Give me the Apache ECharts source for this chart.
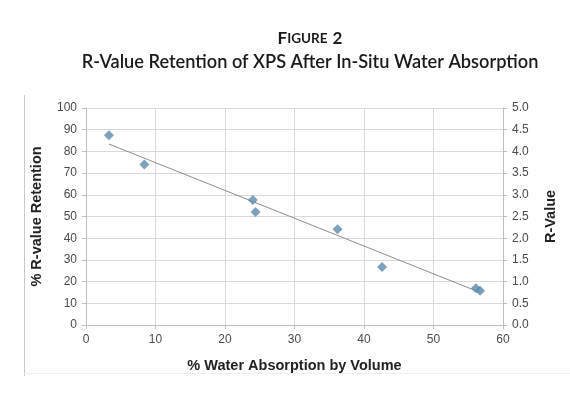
<!DOCTYPE html>
<html>
<head>
<meta charset="utf-8">
<script src="https://cdn.jsdelivr.net/npm/echarts@6/dist/echarts.min.js"></script>
<style>
  html, body { margin: 0; padding: 0; background: #fff; }
  #chart { width: 570px; height: 398px; }
</style>
</head>
<body>
<div id="chart"></div>
<script>
// measured points
const waterAbs = [3.3, 8.4, 24.0, 24.4, 36.2, 42.6, 56.1, 56.7];
const retention = [87.4, 74.0, 57.6, 52.1, 44.1, 26.7, 16.9, 15.8];
// trend line endpoints
const trendX = [3.3, 56.7];
const trendY = [83.4, 15.0];

const points = waterAbs.map((x, i) => [x, retention[i]]);
const trend = trendX.map((x, i) => [x, trendY[i]]);

const chart = echarts.init(document.getElementById("chart"));
const labelColor = "#4a4a4a";
const nameStyle = { fontFamily: "Liberation Sans", fontSize: 14.5, fontWeight: "bold", color: "#222" };
const labelStyle = { color: labelColor, fontFamily: "Liberation Sans", fontSize: 12, margin: 9 };
chart.setOption({
  animation: false,
  backgroundColor: "#fff",
  title: {
    text: "{big|F}{small|IGURE} {big|2}\n{main|R-Value Retention of XPS After In-Situ Water Absorption}",
    left: 305,
    top: 22,
    textAlign: "center",
    textStyle: {
      rich: {
        big: { fontFamily: "Lato", fontSize: 17, fontWeight: "bold", color: "#1a1a1a", lineHeight: 23 },
        small: { fontFamily: "Lato", fontSize: 13.5, fontWeight: "bold", color: "#1a1a1a", lineHeight: 23 },
        main: { fontFamily: "Lato", fontSize: 18.2, fontWeight: 600, color: "#1a1a1a", lineHeight: 24 }
      }
    }
  },
  grid: { left: 86, right: 67, top: 108, bottom: 73 },
  xAxis: {
    type: "value",
    min: 0,
    max: 60,
    interval: 10,
    name: "% Water Absorption by Volume",
    nameLocation: "middle",
    nameGap: 33,
    nameTextStyle: nameStyle,
    axisLine: { show: true, lineStyle: { color: "#bfbfbf" } },
    axisTick: { show: true, length: 4, lineStyle: { color: "#bfbfbf" } },
    axisLabel: labelStyle,
    splitLine: { show: true, lineStyle: { color: "#d9d9d9" } }
  },
  yAxis: [
    {
      type: "value",
      min: 0,
      max: 100,
      interval: 10,
      name: "% R-value Retention",
      nameLocation: "middle",
      nameGap: 42,
      nameTextStyle: nameStyle,
      axisLine: { show: true, lineStyle: { color: "#bfbfbf" } },
      axisTick: { show: true, length: 4, lineStyle: { color: "#bfbfbf" } },
      axisLabel: labelStyle,
      splitLine: { show: true, lineStyle: { color: "#d9d9d9" } }
    },
    {
      type: "value",
      min: 0,
      max: 5,
      interval: 0.5,
      position: "right",
      name: "R-Value",
      nameLocation: "middle",
      nameGap: 40,
      nameRotate: 90,
      nameTextStyle: nameStyle,
      axisLine: { show: true, lineStyle: { color: "#bfbfbf" } },
      axisTick: { show: true, length: 4, lineStyle: { color: "#bfbfbf" } },
      axisLabel: Object.assign({}, labelStyle, { formatter: v => v.toFixed(1) }),
      splitLine: { show: false }
    }
  ],
  series: [
    {
      type: "line",
      data: trend,
      symbol: "none",
      lineStyle: { color: "#8c8c8c", width: 1 },
      z: 2
    },
    {
      type: "scatter",
      data: points,
      symbol: "diamond",
      symbolSize: 10,
      itemStyle: { color: "#5a8aab" },
      z: 3
    }
  ],
  graphic: [
    { type: "line", shape: { x1: 24.5, y1: 95, x2: 24.5, y2: 376 }, style: { stroke: "#c8c8c8", lineWidth: 1 } },
    { type: "line", shape: { x1: 24, y1: 373.5, x2: 570, y2: 373.5 }, style: { stroke: "#eeeeee", lineWidth: 1 } }
  ]
});
</script>
</body>
</html>
